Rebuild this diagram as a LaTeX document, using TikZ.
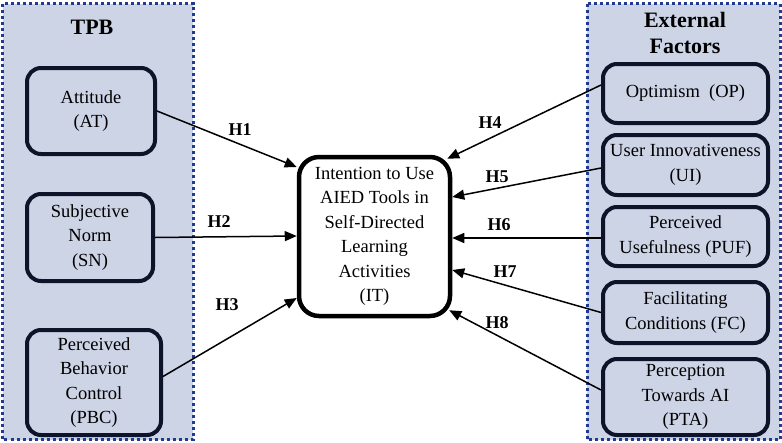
\documentclass[tikz,border=0pt]{standalone}
\usepackage{fontspec}
\setmainfont{Liberation Serif}
\usetikzlibrary{arrows.meta}
\definecolor{panelc}{HTML}{CDD4E6}
\definecolor{dotc}{HTML}{1F3A8F}
\definecolor{boxc}{HTML}{0D1328}
\tikzset{
  panel/.style={fill=panelc, draw=dotc, line width=3pt, dash pattern=on 3pt off 3pt},
  fbox/.style={draw=boxc, line width=4pt, rounded corners=14pt, fill=panelc, align=center,
     inner sep=0pt, font=\fontsize{18.5}{24.5}\selectfont},
  itbox/.style={draw=black, line width=4.5pt, rounded corners=20pt, fill=white, align=center,
     inner sep=0pt, font=\fontsize{18.5}{24.5}\selectfont, minimum width=151pt, minimum height=159pt},
  ttl/.style={font=\fontsize{22}{26}\selectfont\bfseries, align=center},
  hlab/.style={font=\fontsize{18}{20}\selectfont\bfseries},
  arr/.style={line width=1.5pt, -{Triangle[length=12pt,width=10pt]}}
}
\begin{document}
\begin{tikzpicture}[x=1pt,y=-1pt]
\useasboundingbox (0,0) rectangle (782,442);
\path[panel] (2.5,3.5) rectangle (193,439.5);
\path[panel] (587,3.5) rectangle (780,439.5);
\node[ttl] (tpb) at (92,27) {TPB};
\node[ttl] (ext) at (685,33) {External\\Factors};

\node[fbox, minimum width=128pt, minimum height=86pt] (at) at (91,111) {Attitude\\(AT)};
\node[fbox, minimum width=126pt, minimum height=87pt] (sn) at (90,237.5) {Subjective\\Norm\\(SN)};
\node[fbox, minimum width=134pt, minimum height=105pt] (pbc) at (94,382.5) {Perceived\\Behavior\\Control\\(PBC)};

\node[fbox, minimum width=165pt, minimum height=59pt] (op) at (685.5,93.5) {Optimism\ \ (OP)};
\node[fbox, minimum width=165pt, minimum height=60pt] (ui) at (685.5,165) {User Innovativeness\\(UI)};
\node[fbox, minimum width=165pt, minimum height=59pt] (puf) at (685.5,236.5) {Perceived\\Usefulness (PUF)};
\node[fbox, minimum width=165pt, minimum height=61pt] (fc) at (685.5,312.5) {Facilitating\\Conditions (FC)};
\node[fbox, minimum width=165pt, minimum height=76pt] (pta) at (685.5,397) {Perception\\Towards AI\\(PTA)};

\node[itbox] (it) at (374.5,236.5) {Intention to Use\\AIED Tools in\\Self-Directed\\Learning\\Activities\\(IT)};

\draw[arr] (at.east) -- ([yshift=69.5pt]it.west);
\draw[arr] (sn.east) -- ([yshift=0.5pt]it.west);
\draw[arr] ([yshift=6pt]pbc.east) -- ([yshift=-61.5pt]it.west);
\draw[arr] ([yshift=8.5pt]op.west) -- ([xshift=-5pt,yshift=-4pt]it.north east);
\draw[arr] ([yshift=-3pt]ui.west) -- ([yshift=39.5pt]it.east);
\draw[arr] ([yshift=-1.5pt]puf.west) -- ([yshift=-1.5pt]it.east);
\draw[arr] (fc.west) -- ([yshift=-33.5pt]it.east);
\draw[arr] ([yshift=7pt]pta.west) -- ([xshift=-3pt,yshift=8pt]it.south east);

\node[hlab] (h1) at (240,130) {H1};
\node[hlab] (h2) at (219,222) {H2};
\node[hlab] (h3) at (227,305) {H3};
\node[hlab] (h4) at (490,123) {H4};
\node[hlab] (h5) at (497,177) {H5};
\node[hlab] (h6) at (499,225) {H6};
\node[hlab] (h7) at (505,272) {H7};
\node[hlab] (h8) at (497,323) {H8};
\end{tikzpicture}
\end{document}
